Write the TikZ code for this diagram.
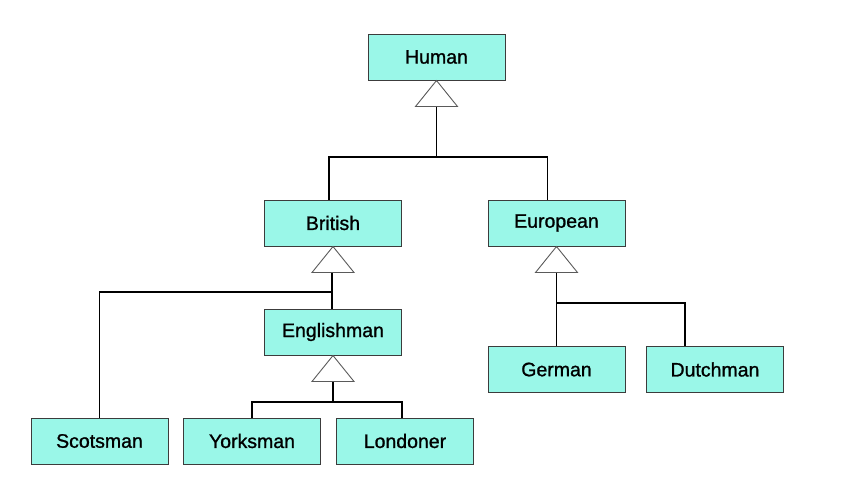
\documentclass[tikz,border=0pt]{standalone}
\usepackage{fontspec}
\setmainfont{Liberation Sans}[FakeBold=1.1]
\usetikzlibrary{calc}
\definecolor{boxfill}{RGB}{154,247,232}
\definecolor{boxline}{RGB}{60,60,60}
\definecolor{triline}{RGB}{90,90,90}
\tikzset{
  cls/.style={draw=boxline, line width=1pt, fill=boxfill, minimum width=137pt, minimum height=46pt, inner sep=0pt, font=\fontsize{19.5}{21}\selectfont},
  conn/.style={draw=black, line width=1.6pt},
  tri/.style={draw=triline, line width=0.9pt, fill=white}
}
\begin{document}
\begin{tikzpicture}[x=1pt,y=-1pt]
\useasboundingbox (0,0) rectangle (864,499);
\node[cls] (Human) at (436.5,57) {Human};
\node[cls] (British) at (333,223) {British};
\node[cls] (European) at (556.5,223) {European};
\node[cls] (Englishman) at (333,332) {Englishman};
\node[cls] (German) at (556.5,369.5) {German};
\node[cls] (Dutchman) at (715,369.5) {Dutchman};
\node[cls] (Scotsman) at (99.5,441) {Scotsman};
\node[cls] (Yorksman) at (252,441) {Yorksman};
\node[cls] (Londoner) at (405,441) {Londoner};

% junctions
\coordinate (j1) at (436.5,157);
\coordinate (j2) at (332,292);
\coordinate (j3) at (333,402);
\coordinate (j4) at (556.5,303);

% Human generalization
\draw[conn] ($(Human.south)+(0,26)$) -- (j1);
\draw[conn] ([xshift=-4pt]British.north) |- (j1) -| ([xshift=-9pt]European.north);
\draw[tri] (Human.south) -- ++(21,26) -- ++(-42,0) -- cycle;

% British generalization
\draw[conn] ($(British.south)+(-1,26)$) -- ([xshift=-1pt]Englishman.north);
\draw[conn] (j2) -| (Scotsman.north);
\draw[tri] (British.south) -- ++(21,26) -- ++(-42,0) -- cycle;

% Englishman generalization
\draw[conn] ($(Englishman.south)+(0,26)$) -- (j3);
\draw[conn] (Yorksman.north) |- (j3) -| ([xshift=-3pt]Londoner.north);
\draw[tri] (Englishman.south) -- ++(21,26) -- ++(-42,0) -- cycle;

% European generalization
\draw[conn] ($(European.south)+(0,26)$) -- (German.north);
\draw[conn] (j4) -| ([xshift=-30pt]Dutchman.north);
\draw[tri] (European.south) -- ++(21,26) -- ++(-42,0) -- cycle;
\end{tikzpicture}
\end{document}
